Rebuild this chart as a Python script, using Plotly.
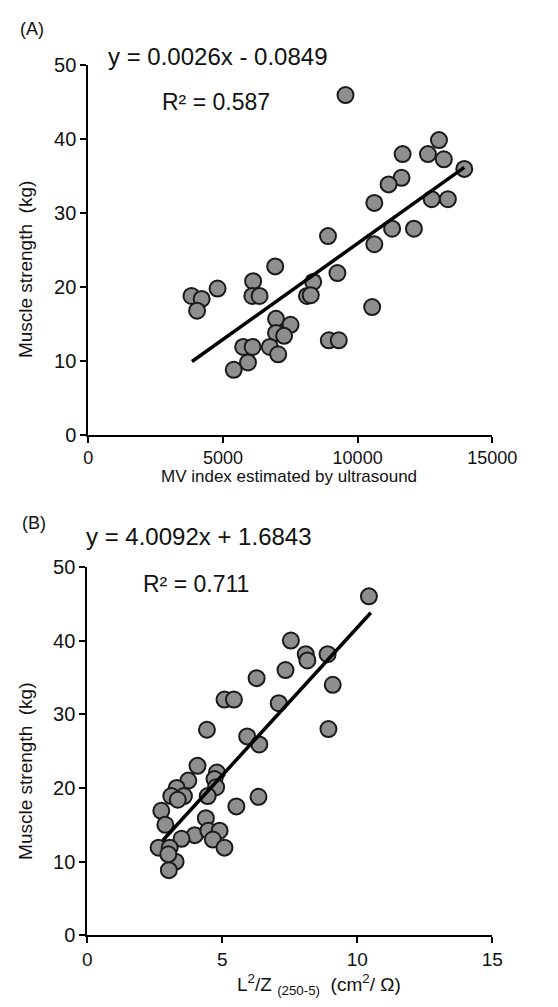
import plotly.graph_objects as go

# ---------------- data ----------------
# Panel A: MV index estimated by ultrasound vs muscle strength
mv_index = [9550, 13020, 11670, 12610, 13200, 13960, 11630, 11150, 10620, 12750,
            13350, 8900, 11280, 12090, 10620, 3830, 4210, 4040, 4800, 6120,
            6090, 6360, 6940, 8350, 8120, 8260, 9250, 10540, 6970, 7510,
            6970, 7270, 6740, 7050, 5750, 6100, 5930, 5400, 8930, 9300]
strength_a = [46.0, 39.9, 38.0, 38.0, 37.3, 36.0, 34.8, 33.9, 31.4, 31.9,
              31.9, 26.9, 27.9, 27.9, 25.8, 18.8, 18.4, 16.8, 19.8, 20.8,
              18.8, 18.8, 22.8, 20.7, 18.8, 18.9, 21.9, 17.3, 15.7, 14.9,
              13.8, 13.4, 11.9, 10.9, 11.9, 11.9, 9.8, 8.8, 12.8, 12.8]
slope_a, intercept_a = 0.0026, -0.0849
fit_range_a = [3850, 13960]

# Panel B: L^2/Z (250-5) vs muscle strength
l2z = [10.43, 7.54, 8.09, 8.15, 8.90, 7.34, 6.27, 9.09, 5.08, 5.43,
       7.09, 4.43, 8.93, 5.92, 6.37, 4.08, 4.80, 3.74, 4.71, 3.31,
       3.11, 3.58, 4.77, 4.46, 6.34, 5.52, 2.74, 2.89, 4.39, 3.98,
       3.49, 4.48, 4.90, 4.65, 5.08, 2.64, 3.05, 3.27, 3.02, 3.35, 3.00]
strength_b = [46.0, 40.0, 38.15, 37.3, 38.15, 36.0, 34.9, 34.0, 32.0, 32.0,
              31.5, 27.9, 28.0, 27.0, 25.9, 23.0, 22.1, 21.0, 21.2, 20.0,
              18.9, 18.9, 20.1, 18.9, 18.8, 17.5, 16.9, 15.0, 15.9, 13.6,
              13.1, 14.2, 14.2, 13.0, 11.9, 11.9, 11.9, 10.0, 8.85, 18.4, 11.0]
slope_b, intercept_b = 4.0092, 1.6843
fit_range_b = [2.8, 10.5]

xticks_a = [0, 5000, 10000, 15000]
xticklabels_a = ["0", "5000", "10000", "15000"]
xticks_b = [0, 5, 10, 15]
xticklabels_b = ["0", "5", "10", "15"]
yticks = [0, 10, 20, 30, 40, 50]

# ---------------- layout helpers ----------------
W, H = 558, 1007
def px(x):
    return x / W
def py(y):
    return 1 - y / H

FONT = "Liberation Sans, Arial, sans-serif"
marker = dict(size=16, color="#8e8e8e", line=dict(color="#1a1a1a", width=2))

fig = go.Figure()
fig.add_trace(go.Scatter(x=mv_index, y=strength_a, mode="markers", marker=marker,
                         xaxis="x", yaxis="y", showlegend=False))
fig.add_trace(go.Scatter(x=fit_range_a, y=[slope_a * v + intercept_a for v in fit_range_a],
                         mode="lines", line=dict(color="black", width=3.5),
                         xaxis="x", yaxis="y", showlegend=False))
fig.add_trace(go.Scatter(x=l2z, y=strength_b, mode="markers", marker=marker,
                         xaxis="x2", yaxis="y2", showlegend=False))
fig.add_trace(go.Scatter(x=fit_range_b, y=[slope_b * v + intercept_b for v in fit_range_b],
                         mode="lines", line=dict(color="black", width=3.5),
                         xaxis="x2", yaxis="y2", showlegend=False))

common_axis = dict(showline=True, linecolor="black", linewidth=2, showgrid=False,
                   zeroline=False, ticks="outside", ticklen=6, tickwidth=1.5,
                   tickcolor="black")

fig.update_layout(
    width=W, height=H, margin=dict(l=0, r=0, t=0, b=0),
    paper_bgcolor="white", plot_bgcolor="white",
    font=dict(family=FONT, color="#111"),
    xaxis=dict(domain=[px(88), px(515)], range=[0, 15000], tickvals=xticks_a,
               ticktext=xticklabels_a, tickfont=dict(size=18), anchor="y", **common_axis),
    yaxis=dict(domain=[py(433.3), py(55.7)], range=[0, 50], tickvals=yticks,
               tickfont=dict(size=20), anchor="x", **common_axis),
    xaxis2=dict(domain=[px(87), px(515)], range=[0, 15], tickvals=xticks_b,
                ticktext=xticklabels_b, tickfont=dict(size=19), anchor="y2", **common_axis),
    yaxis2=dict(domain=[py(945), py(568.3)], range=[0, 50], tickvals=yticks,
                tickfont=dict(size=20), anchor="x2", **common_axis),
)

ann = []
def text(x, y, s, size, xanchor="left", angle=0):
    ann.append(dict(x=px(x), y=py(y), xref="paper", yref="paper", text=s,
                    showarrow=False, xanchor=xanchor, yanchor="middle",
                    textangle=angle, font=dict(size=size, family=FONT, color="#111")))

text(14, 18, "(A)", 18)
text(107, 47, "y = 0.0026x - 0.0849", 24)
text(164, 93, "R² = 0.587", 23)
text(21, 264, "Muscle strength  (kg)", 19, xanchor="center", angle=-90)
text(300, 476, "MV index estimated by ultrasound", 17, xanchor="center")

text(16, 523, "(B)", 18)
text(83, 537, "y = 4.0092x + 1.6843", 24)
text(144, 586, "R² = 0.711", 23)
text(21, 777, "Muscle strength  (kg)", 19, xanchor="center", angle=-90)
text(332, 995, "L<sup>2</sup>/Z <sub>(250-5)</sub>  (cm<sup>2</sup>/ Ω)", 19, xanchor="center")

fig.update_layout(annotations=ann)
fig.write_html("out.html")
